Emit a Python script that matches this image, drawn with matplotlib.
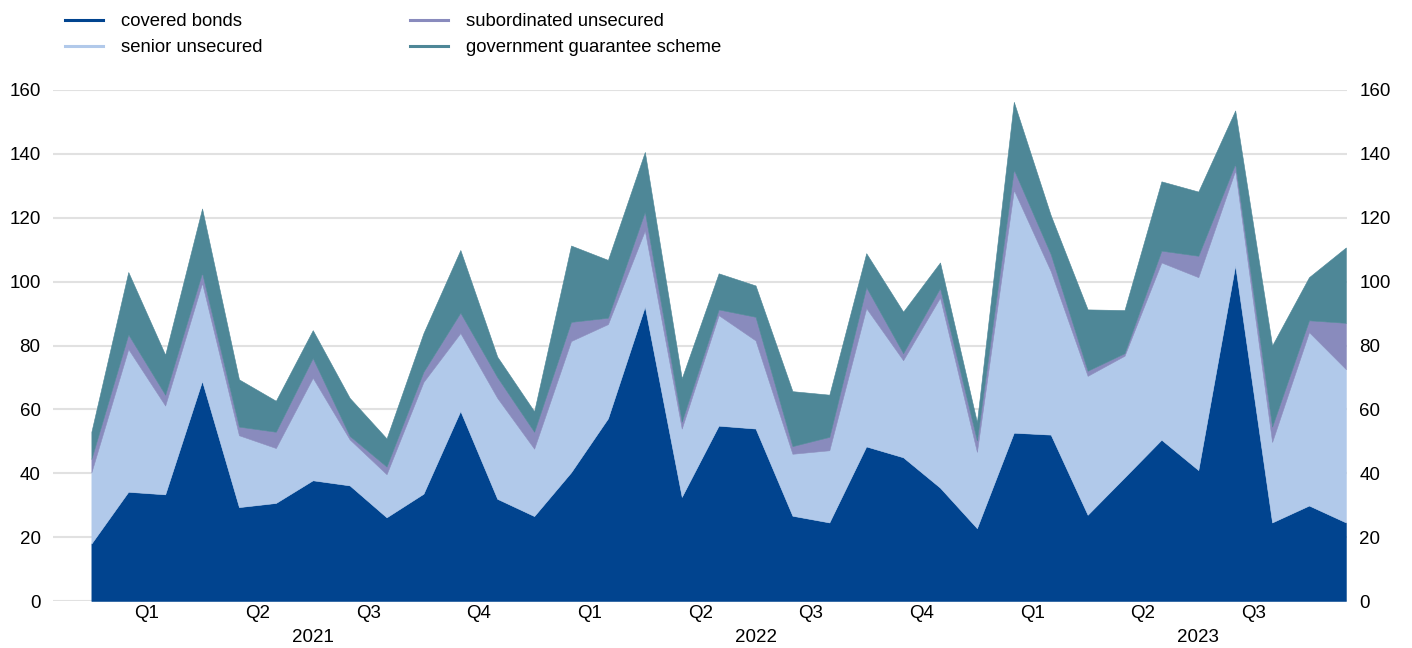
import numpy as np
import matplotlib
matplotlib.use("Agg")
import matplotlib.pyplot as plt
from matplotlib.lines import Line2D

plt.rcParams['font.family'] = ['Liberation Sans', 'DejaVu Sans']

# Monthly data, Jan 2021 - Nov 2023 (EUR billions)
covered_bonds = [18.0, 34.2, 33.4, 68.9, 29.4, 30.7, 37.8, 36.2, 26.2, 33.6, 59.5, 32.0,
                 26.6, 40.3, 57.2, 92.2, 32.6, 54.9, 54.0, 26.7, 24.6, 48.4, 45.0, 35.5,
                 22.8, 52.7, 52.1, 27.0, 38.7, 50.5, 41.0, 105.1, 24.6, 29.9, 24.6]
senior_unsecured = [22.3, 44.7, 27.8, 30.7, 22.5, 17.2, 32.1, 14.4, 13.5, 35.0, 24.4, 31.6,
                    21.1, 41.1, 29.5, 23.8, 21.4, 34.6, 27.6, 19.4, 22.6, 43.3, 30.4, 59.5,
                    23.9, 76.0, 51.2, 43.5, 38.1, 55.5, 60.4, 29.7, 25.2, 54.3, 48.0]
subordinated_unsecured = [4.2, 4.6, 3.4, 3.2, 2.7, 5.1, 6.2, 1.1, 2.4, 3.2, 6.4, 6.5,
                          5.3, 6.0, 2.0, 5.9, 2.2, 1.8, 7.4, 2.4, 4.2, 6.6, 2.2, 3.0,
                          3.6, 6.4, 5.3, 1.6, 0.8, 3.7, 6.7, 2.1, 4.8, 3.7, 14.5]
government_guarantee = [8.5, 19.5, 12.5, 20.1, 14.8, 9.7, 8.7, 11.9, 8.8, 12.1, 19.6, 6.4,
                        6.4, 23.9, 18.1, 18.7, 13.5, 11.3, 9.8, 17.2, 13.2, 10.6, 13.0, 8.0,
                        5.7, 21.2, 12.2, 19.2, 13.5, 21.7, 20.1, 16.7, 25.4, 13.5, 23.6]

series_names = ["covered bonds", "senior unsecured", "subordinated unsecured",
                "government guarantee scheme"]
series_colors = ["#01448F", "#B1C9EA", "#898BBD", "#4E8797"]

quarter_labels = ["Q1", "Q2", "Q3", "Q4", "Q1", "Q2", "Q3", "Q4", "Q1", "Q2", "Q3"]
quarter_pos = [1.5, 4.5, 7.5, 10.5, 13.5, 16.5, 19.5, 22.5, 25.5, 28.5, 31.5]
year_labels = ["2021", "2022", "2023"]
year_pos = [6, 18, 30]

W, H = 1412, 648
fig = plt.figure(figsize=(W / 100, H / 100), dpi=100)
ax = fig.add_axes([53 / W, 1 - 601 / H, (1347 - 53) / W, (601 - 90) / H])

x = np.arange(len(covered_bonds))
data = [covered_bonds, senior_unsecured, subordinated_unsecured, government_guarantee]
base = np.zeros(len(x))
for vals, col in zip(data, series_colors):
    top = base + np.array(vals)
    ax.fill_between(x, base, top, facecolor=col, edgecolor=col, linewidth=0.4, zorder=2)
    base = top

ax.set_xlim(-1.04, 34.03)
ax.set_ylim(0, 160)
ax.set_yticks(np.arange(0, 161, 20))
ax.yaxis.grid(True, color="#E1E1E1", linewidth=1.5, zorder=0)
ax.set_axisbelow(True)
ax.set_xticks([])
for s in ax.spines.values():
    s.set_visible(False)
ax.tick_params(axis='y', which='both', length=0, labelsize=13.5, labelleft=True,
               labelright=True, pad=9, colors="#000000")

for lab, p in zip(quarter_labels, quarter_pos):
    ax.annotate(lab, xy=(p, 0), xycoords=('data', 'axes fraction'),
                xytext=(0, -9), textcoords='offset points', ha='center', va='center',
                fontsize=13.5)
for lab, p in zip(year_labels, year_pos):
    ax.annotate(lab, xy=(p, 0), xycoords=('data', 'axes fraction'),
                xytext=(0, -26.5), textcoords='offset points', ha='center', va='center',
                fontsize=13.5)

handles = [Line2D([0], [0], color=c, lw=2.2) for c in series_colors]
fig.legend(handles, series_names, loc='upper left', bbox_to_anchor=(58 / W, 1 - 6 / H),
           ncol=2, frameon=False, fontsize=13.3, handlelength=2.05, handletextpad=0.95,
           columnspacing=8.0, labelspacing=0.47, borderaxespad=0, borderpad=0.4)

fig.savefig("out.png", dpi=100)
